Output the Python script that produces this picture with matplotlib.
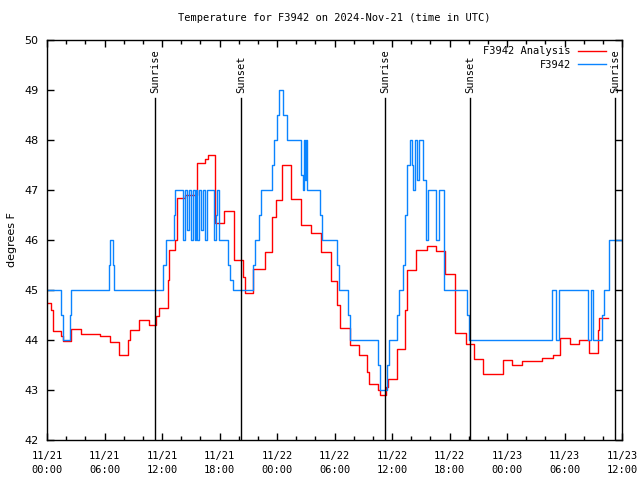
import matplotlib
matplotlib.use('Agg')
import matplotlib.pyplot as plt
from matplotlib.ticker import MultipleLocator

# hours since 11/21 00:00 UTC, step values in degrees F
analysis_hours = [0.0, 0.4, 0.6, 1.5, 1.7, 2.55, 3.55, 5.5, 6.6, 7.5, 8.5, 8.65, 9.55,
                  10.6, 11.4, 11.7, 12.6, 12.7, 13.4, 13.6, 14.4, 15.6, 16.5, 16.8,
                  17.5, 18.5, 19.5, 20.4, 20.7, 21.5, 22.7, 23.5, 23.9, 24.5, 25.5,
                  26.5, 27.5, 28.6, 29.6, 30.3, 30.6, 31.6, 32.6, 33.4, 33.6, 34.5,
                  34.7, 35.4, 35.6, 36.5, 37.4, 37.6, 38.55, 39.6, 40.55, 41.5, 42.6,
                  43.7, 44.6, 45.5, 47.55, 48.55, 49.55, 51.6, 52.8, 53.5, 54.6, 55.5,
                  56.55, 57.45, 57.6, 58.5]
analysis_temp = [44.75, 44.6, 44.19, 44.08, 43.98, 44.22, 44.13, 44.08, 43.96, 43.7,
                 44.0, 44.2, 44.41, 44.31, 44.48, 44.65, 45.2, 45.81, 46.0, 46.85,
                 46.9, 47.55, 47.63, 47.71, 46.35, 46.58, 45.6, 45.27, 44.95, 45.43,
                 45.77, 46.47, 46.8, 47.5, 46.83, 46.3, 46.15, 45.77, 45.18, 44.7,
                 44.25, 43.9, 43.7, 43.37, 43.13, 43.0, 42.9, 43.07, 43.23, 43.83,
                 44.6, 45.4, 45.8, 45.88, 45.78, 45.33, 44.15, 43.93, 43.63, 43.32,
                 43.6, 43.5, 43.58, 43.65, 43.7, 44.05, 43.93, 44.01, 43.75, 44.2,
                 44.45, 44.45]

station_hours = [0.0, 1.45, 1.65, 2.35, 2.5, 6.45, 6.6, 6.85, 7.0, 12.15, 12.45, 13.2,
                 13.4, 14.2, 14.4, 14.6, 14.8, 15.0, 15.2, 15.4, 15.55, 15.7, 15.9,
                 16.1, 16.3, 16.5, 16.7, 17.4, 17.6, 17.75, 17.9, 18.9, 19.1, 19.4,
                 21.5, 21.7, 22.1, 22.3, 23.5, 23.7, 24.0, 24.2, 24.6, 25.0, 26.5,
                 26.7, 26.8, 26.95, 27.05, 27.15, 28.5, 28.7, 30.25, 30.45, 31.45,
                 31.65, 34.55, 34.7, 35.45, 35.65, 36.55, 36.7, 37.1, 37.4, 37.6,
                 37.85, 38.1, 38.2, 38.4, 38.6, 38.8, 39.2, 39.5, 39.8, 40.6, 40.9,
                 41.4, 43.8, 44.0, 52.7, 53.1, 53.4, 56.5, 56.75, 56.95, 57.9, 58.1,
                 58.6, 60.0]
station_temp = [45, 44.5, 44, 44.5, 45, 45.5, 46, 45.5, 45, 45.5, 46, 46.5,
                47, 46, 47, 46.2, 47, 46, 47, 46, 47, 46, 47,
                46.2, 47, 46, 47, 46, 46.5, 47, 46, 45.5, 45.2, 45,
                45.5, 46, 46.5, 47, 47.5, 48, 48.5, 49, 48.5, 48, 47.3,
                47, 48, 47.2, 48, 47, 46.5, 46, 45.5, 45, 44.5,
                44, 43.5, 43, 43.5, 44, 44.5, 45, 45.5, 46.5, 47.5,
                48, 47.5, 47, 48, 47.2, 48, 47.2, 46, 47, 46, 47,
                45, 44.5, 44, 45, 44, 45, 44, 45, 44, 44.5, 45,
                46, 46]

sun_hours = [11.3, 20.24, 35.3, 44.17, 59.3]
sun_labels = ['Sunrise', 'Sunset', 'Sunrise', 'Sunset', 'Sunrise']

tick_hours = list(range(0, 61, 6))
tick_labels = ['11/21\n00:00', '11/21\n06:00', '11/21\n12:00', '11/21\n18:00',
               '11/22\n00:00', '11/22\n06:00', '11/22\n12:00', '11/22\n18:00',
               '11/23\n00:00', '11/23\n06:00', '11/23\n12:00']

mono = 'DejaVu Sans Mono'

fig = plt.figure(figsize=(6.4, 4.8), dpi=100)
ax = fig.add_axes([47 / 640, 40 / 480, 575 / 640, 400 / 480])

ax.plot(analysis_hours, analysis_temp, drawstyle='steps-post', color='#ff0000',
        linewidth=1.0, label='F3942 Analysis')
ax.plot(station_hours, station_temp, drawstyle='steps-post', color='#0a84ff',
        linewidth=1.0, label='F3942')

for h, lab in zip(sun_hours, sun_labels):
    ax.axvline(h, ymin=0, ymax=0.855, color='black', linewidth=1.0)
    ax.text(h, 48.94, lab, rotation=90, ha='center', va='bottom',
            family=mono, fontsize=7.5)

ax.set_xlim(0, 60)
ax.set_ylim(42, 50)
ax.set_xticks(tick_hours)
ax.set_xticklabels(tick_labels, family=mono, fontsize=7.5, linespacing=1.5)
ax.xaxis.set_minor_locator(MultipleLocator(2))
ax.set_yticks(range(42, 51))
ax.tick_params(axis='y', labelsize=8)
ax.tick_params(which='both', direction='in', top=True, right=True, width=1.0)
ax.tick_params(which='major', length=5)
ax.tick_params(which='minor', length=3)
ax.tick_params(axis='x', pad=8)
ax.tick_params(axis='y', pad=6)
for sp in ax.spines.values():
    sp.set_linewidth(1.0)

ax.set_ylabel('degrees F', fontsize=8, labelpad=5)
ax.set_title('Temperature for F3942 on 2024-Nov-21 (time in UTC)',
             family=mono, fontsize=7.5, pad=14)

ax.legend(loc='upper right', bbox_to_anchor=(0.98, 0.995), frameon=False,
          markerfirst=False, handlelength=2.7, handletextpad=0.7,
          borderaxespad=0, labelspacing=0.35, prop={'family': mono, 'size': 7.5})

fig.savefig('out.png', dpi=100)
